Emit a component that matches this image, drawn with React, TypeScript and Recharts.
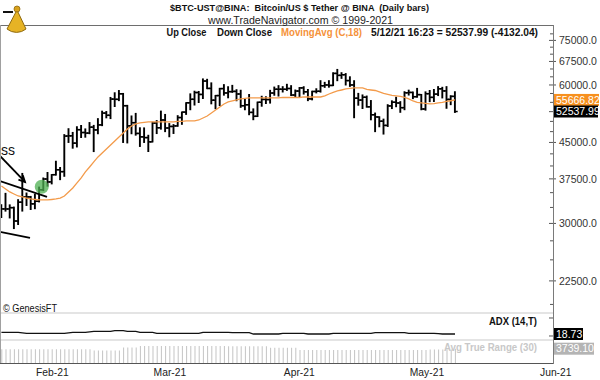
import React from "react";
import {
  ComposedChart,
  Bar,
  Line,
  XAxis,
  YAxis,
  ReferenceLine,
  ReferenceDot,
} from "recharts";

const FONT = "'Liberation Sans', Arial, Helvetica, sans-serif";

// day offsets are counted from Feb 1 2021; first bar is Jan 24
const FIRST_DAY = -8;
const X_DOMAIN: [number, number] = [-8.333, 123.333];
const PRICE_DOMAIN: [number, number] = [19160, 81010];

const monthTicks = [0, 28, 59, 89, 120];
const monthLabels = ["Feb-21", "Mar-21", "Apr-21", "May-21", "Jun-21"];

const majorTicks = [22500, 30000, 37500, 45000, 52500, 60000, 67500, 75000];
const minorTicks = [
  20000, 25000, 27500, 32500, 35000, 40000, 42500, 47500, 50000, 55000, 57500,
  62500, 65000, 70000, 72500, 77500,
];

const LAST_MA = 55666.82;
const LAST_CLOSE = 52537.99;
const LAST_ADX = 18.73;
const LAST_ATR = 3739.1;

const opens = [
  // Jan 24-31
  32078, 32260, 32254, 32464, 30362, 33368, 34252, 34262,
  // Feb
  33092, 33517, 35510, 37473, 36936, 38289, 39251, 38886, 46470, 46515,
  44841, 47968, 47298, 47156, 48580, 47911, 49134, 52117, 51550, 55907,
  55838, 57412, 54088, 48891, 49676, 47074, 46276, 46103,
  // Mar
  45134, 49595, 48436, 50349, 48374, 48746, 48883, 50972, 52375, 54875,
  55851, 57773, 57222, 61188, 58976, 55605, 56900, 58926, 57644, 58030,
  58100, 57351, 54084, 54342, 52304, 51293, 55025, 55820, 55777, 57628, 58731,
  // Apr
  58739, 58720, 58950, 57051, 58203, 59130, 57990, 55953, 58078, 58143,
  59770, 59999, 59860, 63575, 62959, 63159, 61334, 60006, 56150, 55633,
  56425, 53787, 51690, 51110, 50047, 49004, 54030, 55033, 54824, 53556,
  // May 1-12
  57697, 57797, 56578, 57169, 53199, 57436, 56393, 57315, 58866, 58240, 55816, 56670,
];

const highs = [
  32944, 34875, 32921, 32557, 33783, 38531, 34933, 34342,
  34717, 35984, 37662, 38708, 38310, 40955, 39700, 46794, 48200, 47310,
  48678, 48985, 48150, 49707, 49010, 50689, 52619, 52530, 56368, 57700,
  58352, 57508, 54183, 51374, 52041, 48424, 48394, 46638,
  49790, 50200, 52640, 51773, 49448, 49200, 51450, 52402, 54895, 57387,
  58150, 58081, 61844, 61724, 60633, 56938, 58999, 60100, 59468, 59880,
  58589, 58430, 55830, 57200, 53229, 55073, 56700, 56559, 58405, 59368, 59800,
  59490, 60200, 59791, 58500, 59232, 59474, 58650, 58153, 58869, 61300,
  60790, 61300, 63777, 64854, 63800, 63520, 62506, 61288, 57526, 57076,
  56757, 55500, 52130, 51167, 50567, 54356, 55416, 56428, 55196, 58000,
  58458, 57911, 58981, 57200, 57963, 58360, 58650, 59500, 59300, 59500, 56862, 58000,
];

const lows = [
  30900, 31910, 30837, 29241, 29842, 31916, 32825, 32171,
  32296, 33418, 35362, 36161, 36570, 38215, 37351, 37988, 45000, 43727,
  43995, 46125, 46202, 47014, 42989, 47003, 48947, 50901, 50710, 53863,
  55477, 45000, 44892, 47003, 46674, 44107, 45000, 43000,
  45115, 47047, 48100, 47500, 46300, 47070, 48800, 49274, 51789, 53006,
  54272, 54962, 56078, 58900, 54600, 53271, 54123, 57023, 56270, 57820,
  55450, 53650, 53000, 51700, 50427, 51225, 53950, 54677, 54800, 57000, 56769,
  57935, 58400, 56910, 56500, 56478, 57333, 55473, 55700, 57670, 57902,
  59290, 59350, 59800, 61301, 62020, 60000, 59580, 50931, 54221, 53329,
  53695, 50400, 47500, 48676, 46930, 48753, 53319, 53813, 52330, 53013,
  57052, 56035, 56435, 53000, 52900, 55200, 55241, 56900, 56235, 53400, 54370, 52300,
];

const closes = [
  32260, 32254, 32467, 30366, 33364, 34253, 34262, 33092,
  33527, 35510, 37472, 36926, 38289, 39256, 38870, 46448, 46514, 44840,
  47969, 47287, 47153, 48577, 47911, 49133, 52119, 51552, 55906, 55842,
  57408, 54087, 48891, 49676, 47073, 46277, 46106, 45135,
  49587, 48440, 50349, 48374, 48751, 48882, 50971, 52375, 54884, 55851,
  57773, 57221, 61188, 58968, 55605, 56900, 58912, 57648, 58030, 58102,
  57351, 54083, 54340, 52303, 51293, 55025, 55817, 55777, 57628, 58730, 58741,
  58720, 58950, 57052, 58202, 59130, 57992, 56000, 58078, 58143, 59770,
  60007, 59861, 63575, 62959, 63159, 61334, 60006, 56150, 55633, 56425,
  53787, 51690, 51126, 50047, 49004, 54021, 55033, 54824, 53555, 57697,
  57797, 56578, 57169, 53200, 57436, 56393, 57314, 58862, 58240, 55816, 56670, 52538,
];

// MovingAvg (C,18)
const movingAvg = [
  36190, 35650, 35120, 34760, 34420, 34250, 34070, 33910,
  33820, 33740, 33740, 33740, 33820, 33910, 34070, 34420, 35120, 35830,
  36740, 37670, 38820, 39800, 40820, 41850, 42700, 43560, 44440, 45340,
  46260, 47190, 48140, 48870, 49370, 49610, 49730, 49860,
  49860, 49860, 49860, 49860, 49860, 49860, 49990, 49990, 50110, 50110,
  50110, 50350, 50860, 51370, 52150, 52950, 53740, 54560, 55100, 55380,
  55660, 55940, 56080, 56220, 56220, 56220, 56220, 56220, 56220, 56220, 56220,
  56360, 56360, 56360, 56360, 56360, 56500, 56500, 56500, 56500, 56500,
  56790, 57350, 57790, 58230, 58510, 58810, 58960, 59110, 59110, 59110,
  58660, 58510, 58360, 57930, 57500, 57210, 56930, 56790, 56650, 56360,
  55940, 55380, 54970, 54830, 54700, 54560, 54640, 54830, 54970, 55240, 55440, 55667,
];

const adx = [
  25.3, 25.3, 25.3, 25.3, 25.3, 23.5, 21.4, 21.4,
  21.4, 21.4, 21.4, 21.4, 21.4, 21.4, 21.4, 21.4, 23.3, 25.3,
  25.3, 25.3, 25.3, 27.2, 29.2, 29.2, 29.2, 29.2, 29.2, 31.6,
  31.6, 31.6, 29.2, 29.2, 29.2, 25.3, 25.3, 25.3,
  25.3, 21.4, 21.4, 21.4, 21.4, 21.4, 21.4, 21.4, 21.4, 21.4,
  21.4, 21.4, 25.3, 25.3, 25.3, 25.3, 25.3, 25.3, 25.3, 23.8,
  23.8, 23.8, 23.8, 23.8, 18.7, 18.7, 18.7, 18.7, 18.7, 18.7, 18.7,
  21.4, 21.4, 21.4, 21.4, 21.4, 21.4, 18.7, 18.7, 18.7, 18.7,
  18.7, 18.7, 21.4, 21.4, 21.4, 21.4, 21.4, 21.4, 21.4, 21.4,
  21.4, 21.4, 23.8, 23.8, 23.8, 23.8, 23.8, 23.8, 23.8, 23.8,
  21.4, 21.4, 21.4, 21.4, 21.4, 21.4, 21.4, 20.0, 18.73, 18.73, 18.73, 18.73,
];

const atr = [
  3590, 3590, 3590, 3590, 3590, 3590, 3590, 3590,
  3590, 3590, 3590, 3590, 3590, 3590, 3590, 3620, 3620, 3620,
  3620, 3620, 3620, 3620, 3300, 3300, 3300, 3300, 3300, 3300,
  3300, 4040, 4040, 4040, 4040, 4400, 4400, 4400,
  4400, 4400, 4400, 4400, 4400, 4400, 4400, 4400, 4400, 4400,
  4400, 4400, 4400, 4400, 4400, 4400, 4400, 4400, 4380, 4380,
  4380, 4380, 4380, 4380, 4380, 4380, 4380, 4380, 4000, 4000, 4000,
  4000, 4000, 4000, 4000, 3410, 3410, 3410, 3410, 3410, 3410, 3410,
  3410, 3410, 3410, 3410, 3410, 3410, 3410, 3410, 3410, 3410, 3410, 3410,
  3410, 3410, 3410, 3410, 3410, 3410, 3410, 3410, 3410, 3410,
  3410, 3410, 3550, 3550, 3550, 3550, 3550, 3550, 3700, 3700, 3700, 3739.1,
];

const rows = opens.map((o, i) => ({
  day: FIRST_DAY + i,
  open: o,
  high: highs[i],
  low: lows[i],
  close: closes[i],
  range: [lows[i], highs[i]],
  ma: movingAvg[i],
  adx: adx[i],
  atr: atr[i],
}));

const priceTicks = [...minorTicks, ...majorTicks, LAST_MA, LAST_CLOSE];

function OhlcShape(props: any) {
  const { x, y, width, height, payload } = props;
  if (x == null || y == null) return null;
  const cx = x + width / 2;
  const top = Math.min(y, y + height);
  const bot = Math.max(y, y + height);
  const lh = Math.log(payload.high);
  const ll = Math.log(payload.low);
  const at = (v: number) => top + ((bot - top) * (lh - Math.log(v))) / (lh - ll || 1);
  const yo = at(payload.open);
  const yc = at(payload.close);
  return (
    <g stroke="#000">
      <line x1={cx} x2={cx} y1={top - 0.5} y2={bot + 0.5} strokeWidth={1.9} />
      <line x1={cx - 2.8} x2={cx} y1={yo} y2={yo} strokeWidth={1.5} />
      <line x1={cx} x2={cx + 2.8} y1={yc} y2={yc} strokeWidth={1.5} />
    </g>
  );
}

function ArrowShape(props: any) {
  const { x1, y1, x2, y2 } = props;
  const ang = Math.atan2(y2 - y1, x2 - x1);
  const L = 7;
  const ax = x2 - L * Math.cos(ang - 0.45);
  const ay = y2 - L * Math.sin(ang - 0.45);
  const bx = x2 - L * Math.cos(ang + 0.45);
  const by = y2 - L * Math.sin(ang + 0.45);
  return (
    <g stroke="#000" strokeWidth={1.8} fill="none">
      <line x1={x1} y1={y1} x2={x2} y2={y2} />
      <polyline points={`${ax},${ay} ${x2},${y2} ${bx},${by}`} />
    </g>
  );
}

function ValueBox({ y, w, fill, text }: { y: number; w: number; fill: string; text: string }) {
  return (
    <g>
      <rect x={554} y={y - 6} width={w} height={12} fill={fill} />
      <text x={556} y={y} dy="0.36em" fontSize={10.5} fill="#fff" fontFamily={FONT}>
        {text}
      </text>
    </g>
  );
}

const PriceTick = (props: any) => {
  const { y, payload } = props;
  const v = payload.value;
  if (v === LAST_MA) return <ValueBox y={y} w={45} fill="#f7901e" text={v.toFixed(2)} />;
  if (v === LAST_CLOSE) return <ValueBox y={y} w={44} fill="#000" text={v.toFixed(2)} />;
  const major = v % 7500 === 0;
  return (
    <g>
      <line x1={major ? 549 : 550} x2={major ? 556 : 553} y1={y} y2={y} stroke="#555" />
      {major && v !== 52500 ? (
        <text x={559} y={y} dy="0.36em" fontSize={10.5} fill="#333" fontFamily={FONT}>
          {v.toFixed(1)}
        </text>
      ) : null}
    </g>
  );
};

const AdxTick = (props: any) => {
  const { y, payload } = props;
  if (payload.value === LAST_ADX)
    return <ValueBox y={y} w={29} fill="#000" text={LAST_ADX.toFixed(2)} />;
  return <line x1={549} x2={553} y1={y} y2={y} stroke="#555" />;
};

const AtrTick = (props: any) => {
  const { y } = props;
  return <ValueBox y={y} w={40} fill="#b4b4b4" text={LAST_ATR.toFixed(2)} />;
};

const MonthTick = (props: any) => {
  const { x, payload } = props;
  return (
    <text x={x + 1} y={35} fontSize={10.3} fill="#222" fontFamily={FONT}>
      {monthLabels[monthTicks.indexOf(payload.value)]}
    </text>
  );
};

const abs = (left: number, top: number, width: number, height: number, bg: string) => ({
  position: "absolute" as const,
  left,
  top,
  width,
  height,
  background: bg,
});

export default function App() {
  return (
    <div
      style={{
        position: "fixed",
        left: 0,
        top: 0,
        width: 600,
        height: 380,
        background: "#fff",
        overflow: "hidden",
        fontFamily: FONT,
      }}
    >
      <div style={{ position: "absolute", left: 0, top: 0 }}>
        <ComposedChart
          width={600}
          height={313}
          data={rows}
          margin={{ top: 25, right: 0, bottom: 0, left: 0 }}
        >
          <XAxis dataKey="day" type="number" domain={X_DOMAIN} allowDataOverflow hide />
          <YAxis
            orientation="right"
            width={47}
            scale="log"
            domain={PRICE_DOMAIN}
            allowDataOverflow
            ticks={priceTicks}
            interval={0}
            tick={<PriceTick />}
            tickLine={false}
            axisLine={false}
          />
          <Bar dataKey="range" barSize={4} shape={OhlcShape} isAnimationActive={false} />
          <Line
            dataKey="ma"
            type="linear"
            stroke="#f39b4b"
            strokeWidth={1.3}
            dot={false}
            isAnimationActive={false}
          />
          <ReferenceLine
            segment={[{ x: -8.333, y: 37100 }, { x: 2.857, y: 34250 }]}
            stroke="#000"
            strokeWidth={1.8}
            ifOverflow="visible"
          />
          <ReferenceLine
            segment={[{ x: -8.333, y: 28750 }, { x: -1.19, y: 27900 }]}
            stroke="#000"
            strokeWidth={1.8}
            ifOverflow="visible"
          />
          <ReferenceLine
            segment={[{ x: -8.333, y: 42050 }, { x: -2.38, y: 36920 }]}
            shape={ArrowShape}
            ifOverflow="visible"
          />
          <ReferenceDot
            x={1.6}
            y={36060}
            r={7}
            fill="#4caf50"
            fillOpacity={0.75}
            stroke="none"
            ifOverflow="visible"
          />
        </ComposedChart>
      </div>

      <div style={{ position: "absolute", left: 0, top: 313 }}>
        <ComposedChart width={600} height={27} data={rows} margin={{ top: 0, right: 0, bottom: 0, left: 0 }}>
          <XAxis dataKey="day" type="number" domain={X_DOMAIN} allowDataOverflow hide />
          <YAxis
            orientation="right"
            width={47}
            domain={[-4.6, 100.4]}
            allowDataOverflow
            ticks={[81, 11, LAST_ADX]}
            interval={0}
            tick={<AdxTick />}
            tickLine={false}
            axisLine={false}
          />
          <Line
            dataKey="adx"
            type="linear"
            stroke="#111"
            strokeWidth={1.3}
            dot={false}
            isAnimationActive={false}
          />
        </ComposedChart>
      </div>

      <div style={{ position: "absolute", left: 0, top: 341 }}>
        <ComposedChart width={600} height={39} data={rows} margin={{ top: 0, right: 0, bottom: 0, left: 0 }}>
          <XAxis
            dataKey="day"
            type="number"
            domain={X_DOMAIN}
            allowDataOverflow
            ticks={monthTicks}
            interval={0}
            tick={<MonthTick />}
            tickLine={false}
            axisLine={false}
            height={16.5}
          />
          <YAxis
            orientation="right"
            width={47}
            domain={[0, 5683]}
            allowDataOverflow
            ticks={[LAST_ATR]}
            interval={0}
            tick={<AtrTick />}
            tickLine={false}
            axisLine={false}
          />
          <Bar dataKey="atr" barSize={1} fill="#c4c4c4" isAnimationActive={false} />
        </ComposedChart>
      </div>

      {/* frame and panel separators */}
      <div style={abs(0, 25, 553, 1, "#6e6e6e")} />
      <div style={abs(0, 25, 1, 339, "#a0a0a0")} />
      <div style={abs(0, 363, 553, 1, "#555")} />
      <div style={abs(553, 25, 1, 339, "#7a7a7a")} />
      <div style={abs(1, 312, 552, 2, "#e4e4e4")} />
      <div style={abs(1, 339, 552, 2, "#e4e4e4")} />

      <svg
        width={600}
        height={380}
        style={{ position: "absolute", left: 0, top: 0, pointerEvents: "none" }}
        fontFamily={FONT}
      >
        {/* logo */}
        <path d="M7 29 A15 15 0 0 0 26 29 L17 10 Z" fill="#e6b325" stroke="#8f6a10" strokeWidth={1} />
        <circle cx={17} cy={9} r={3} fill="#d9a21c" stroke="#8f6a10" strokeWidth={0.8} />
        <line x1={3} y1={12} x2={13} y2={12} stroke="#111" strokeWidth={2} />

        <text
          x={170}
          y={10.5}
          fontSize={9.5}
          fontWeight="bold"
          fill="#111"
          textLength={259}
          lengthAdjust="spacingAndGlyphs"
          style={{ whiteSpace: "pre" }}
        >
          $BTC-UST@BINA:  Bitcoin/US $ Tether @ BINA  (Daily bars)
        </text>
        <text x={208} y={23.5} fontSize={11} fill="#222" textLength={185} lengthAdjust="spacingAndGlyphs">
          www.TradeNavigator.com © 1999-2021
        </text>

        <text x={166.5} y={36} fontSize={11} fontWeight="bold" fill="#111" textLength={40} lengthAdjust="spacingAndGlyphs">
          Up Close
        </text>
        <text x={217} y={36} fontSize={11} fontWeight="bold" fill="#111" textLength={55} lengthAdjust="spacingAndGlyphs">
          Down Close
        </text>
        <text x={281} y={36} fontSize={11} fontWeight="bold" fill="#f5923a" textLength={81} lengthAdjust="spacingAndGlyphs">
          MovingAvg (C,18)
        </text>
        <text x={371} y={36} fontSize={11} fontWeight="bold" fill="#111" textLength={167} lengthAdjust="spacingAndGlyphs">
          5/12/21 16:23 = 52537.99 (-4132.04)
        </text>

        <text x={1} y={155} fontSize={14} fill="#111">
          ss
        </text>

        <text x={3} y={311.5} fontSize={10} fill="#111" textLength={54} lengthAdjust="spacingAndGlyphs">
          © GenesisFT
        </text>
        <text x={489} y={324.5} fontSize={10.5} fontWeight="bold" fill="#111" textLength={48} lengthAdjust="spacingAndGlyphs">
          ADX (14,T)
        </text>
        <text x={444} y={351} fontSize={10.5} fontWeight="bold" fill="#c8c8c8" textLength={93} lengthAdjust="spacingAndGlyphs">
          Avg True Range (30)
        </text>
      </svg>
    </div>
  );
}
